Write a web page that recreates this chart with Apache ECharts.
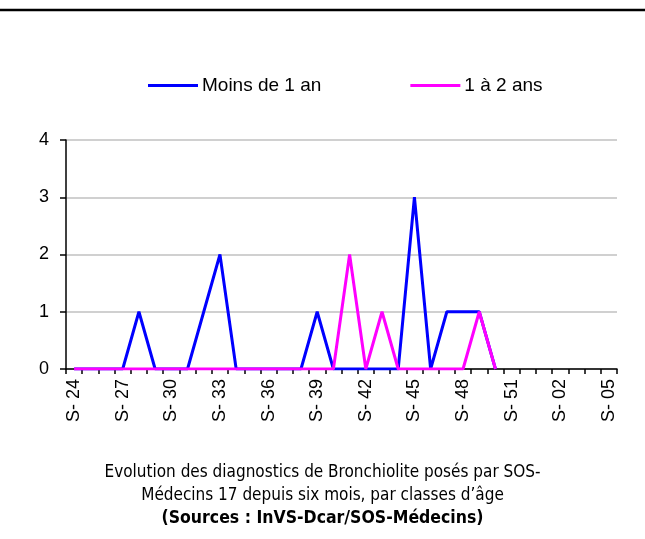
<!DOCTYPE html>
<html>
<head>
<meta charset="utf-8">
<script src="https://cdn.jsdelivr.net/npm/echarts@6/dist/echarts.min.js"></script>
<style>
html,body{margin:0;padding:0;background:#fff;}
#chart{width:645px;height:539px;}
</style>
</head>
<body>
<div id="chart"></div>
<script>
const weeks = ['S- 24','S- 25','S- 26','S- 27','S- 28','S- 29','S- 30','S- 31','S- 32','S- 33','S- 34','S- 35','S- 36','S- 37','S- 38','S- 39','S- 40','S- 41','S- 42','S- 43','S- 44','S- 45','S- 46','S- 47','S- 48','S- 49','S- 50','S- 51','S- 52','S- 01','S- 02','S- 03','S- 04','S- 05'];
const moinsDe1An = [0,0,0,0,1,0,0,0,1,2,0,0,0,0,0,1,0,0,0,0,0,3,0,1,1,1,0];
const unA2Ans   = [0,0,0,0,0,0,0,0,0,0,0,0,0,0,0,0,0,2,0,1,0,0,0,0,0,1,0];
const yTicks = [0,1,2,3,4];
const seriesNames = ['Moins de 1 an','1 à 2 ans'];
const titleLines = ['Evolution des diagnostics de Bronchiolite posés par SOS-', 'Médecins 17 depuis six mois, par classes d\u2019âge'];
const sourceLine = '(Sources : InVS-Dcar/SOS-Médecins)';

const narrow = '"DejaVu Sans Condensed", "Liberation Sans Narrow", "Arial Narrow", sans-serif';
const chart = echarts.init(document.getElementById('chart'));
chart.setOption({
  animation:false,
  backgroundColor:'#fff',
  graphic:[{type:'line',shape:{x1:0,y1:10,x2:645,y2:10},style:{stroke:'#000',lineWidth:2.5}}],
  title:[
    {text:titleLines[0], left:'center', top:459,
     textStyle:{fontFamily:narrow, fontSize:17, fontWeight:'normal', color:'#000'}},
    {text:titleLines[1], left:'center', top:482,
     textStyle:{fontFamily:narrow, fontSize:17, fontWeight:'normal', color:'#000'}},
    {text:sourceLine, left:'center', top:504,
     textStyle:{fontFamily:narrow, fontSize:17.5, fontWeight:'bold', color:'#000'}}
  ],
  legend:{
    left:143, top:71, icon:'rect', itemWidth:50, itemHeight:3, itemGap:89,
    textStyle:{fontFamily:'Arial, Liberation Sans', fontSize:19, color:'#000', padding:[0,0,0,-1]},
    data:seriesNames
  },
  grid:{left:66, right:28, top:140, bottom:170},
  xAxis:{
    type:'category', data:weeks, boundaryGap:true,
    axisLine:{lineStyle:{color:'#000', width:1.5}},
    axisTick:{show:true, alignWithLabel:false, interval:0, length:5, lineStyle:{color:'#000', width:1.5}},
    axisLabel:{interval:2, rotate:90, margin:10, fontFamily:'Arial, Liberation Sans', fontSize:18, color:'#000'}
  },
  yAxis:{
    type:'value', min:0, max:4, interval:1,
    axisLine:{show:true, lineStyle:{color:'#000', width:1.5}},
    axisTick:{show:true, length:6, lineStyle:{color:'#000', width:1.5}},
    axisLabel:{margin:17, fontFamily:'Arial, Liberation Sans', fontSize:18, color:'#000'},
    splitLine:{lineStyle:{color:'#c0c0c0', width:1.5}}
  },
  series:[
    {name:seriesNames[0], type:'line', data:moinsDe1An, showSymbol:false, symbol:'none', color:'#0000ff', lineStyle:{width:3, color:'#0000ff'}},
    {name:seriesNames[1], type:'line', data:unA2Ans, showSymbol:false, symbol:'none', color:'#ff00ff', lineStyle:{width:3, color:'#ff00ff'}}
  ]
});
</script>
</body>
</html>
